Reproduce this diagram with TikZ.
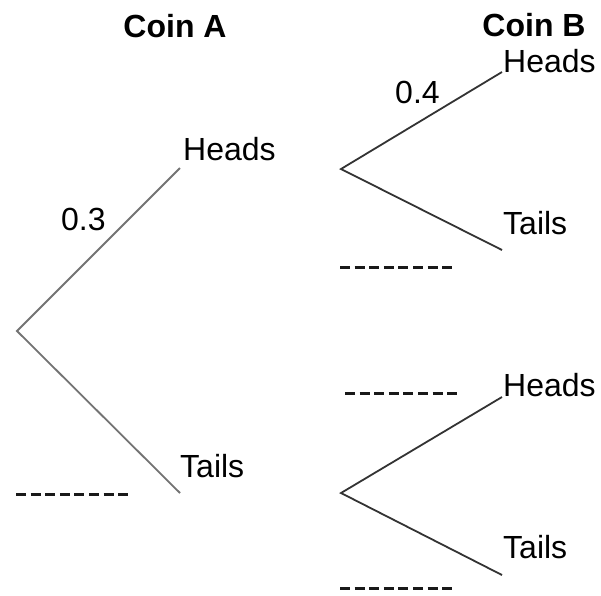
\documentclass[tikz,border=0pt]{standalone}
\usepackage{fontspec}
\setmainfont{Liberation Sans}
\begin{document}
\begin{tikzpicture}[x=1pt,y=-1pt,
  lbl/.style={inner sep=0pt,anchor=west,font=\fontsize{32}{36}\selectfont},
  hdr/.style={inner sep=0pt,font=\bfseries\fontsize{32}{36}\selectfont},
  branchA/.style={draw=black!55,line width=1.8pt},
  branchB/.style={draw=black!80,line width=1.8pt},
  blank/.style={draw=black!90,line width=3pt,dash pattern=on 10pt off 4.6pt}]
\useasboundingbox (0,0) rectangle (601,595);
% headers
\node[hdr] (coinA) at (175,26) {Coin A};
\node[hdr] (coinB) at (534,25) {Coin B};
% coin A
\coordinate (rA) at (17,331);
\coordinate (hA) at (180,168);
\coordinate (tA) at (180,493);
\draw[branchA] (hA) -- (rA) -- (tA);
\node[lbl] (hAl) at (183,149) {Heads};
\node[lbl] (tAl) at (180,466) {Tails};
\node[lbl] (pA) at (61,219) {0.3};
\coordinate (dA1) at (16,494);
\coordinate (dA2) at (131,494);
\draw[blank] (dA1) -- (dA2);
% coin B upper
\coordinate (rB1) at (341,169);
\coordinate (hB1) at (502,72);
\coordinate (tB1) at (502,250);
\draw[branchB] (hB1) -- (rB1) -- (tB1);
\node[lbl] (hB1l) at (503,61) {Heads};
\node[lbl] (tB1l) at (503,223) {Tails};
\node[lbl] (pB) at (395,92) {0.4};
\coordinate (dB1a) at (340,267);
\coordinate (dB1b) at (455,267);
\draw[blank] (dB1a) -- (dB1b);
% coin B lower
\coordinate (rB2) at (341,493);
\coordinate (hB2) at (502,397);
\coordinate (tB2) at (502,575);
\draw[branchB] (hB2) -- (rB2) -- (tB2);
\node[lbl] (hB2l) at (503,385) {Heads};
\node[lbl] (tB2l) at (503,547) {Tails};
\coordinate (dB2a) at (345,393);
\coordinate (dB2b) at (460,393);
\draw[blank] (dB2a) -- (dB2b);
\coordinate (dB3a) at (340,588);
\coordinate (dB3b) at (455,588);
\draw[blank] (dB3a) -- (dB3b);
\end{tikzpicture}
\end{document}
